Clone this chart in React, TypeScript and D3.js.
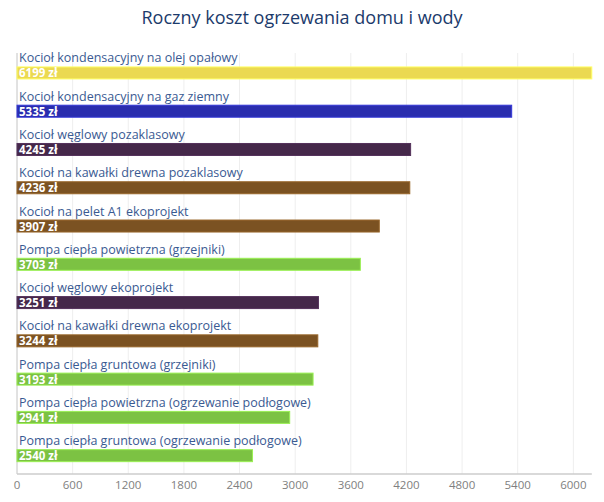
import React from "react";
import * as d3 from "d3";

const categories = [
  "Kocioł kondensacyjny na olej opałowy",
  "Kocioł kondensacyjny na gaz ziemny",
  "Kocioł węglowy pozaklasowy",
  "Kocioł na kawałki drewna pozaklasowy",
  "Kocioł na pelet A1 ekoprojekt",
  "Pompa ciepła powietrzna (grzejniki)",
  "Kocioł węglowy ekoprojekt",
  "Kocioł na kawałki drewna ekoprojekt",
  "Pompa ciepła gruntowa (grzejniki)",
  "Pompa ciepła powietrzna (ogrzewanie podłogowe)",
  "Pompa ciepła gruntowa (ogrzewanie podłogowe)",
];
const values = [6199, 5335, 4245, 4236, 3907, 3703, 3251, 3244, 3193, 2941, 2540];
const colors = [
  "#EBD951", "#2A2DAE", "#45284A", "#7B5222", "#7B5222", "#7CC243",
  "#45284A", "#7B5222", "#7CC243", "#7CC243", "#7CC243",
];
const ticks = [0, 600, 1200, 1800, 2400, 3000, 3600, 4200, 4800, 5400, 6000];
const title = "Roczny koszt ogrzewania domu i wody";

export default function App() {
  const W = 604, H = 502;
  const left = 17, right = 591.8, top = 53, bottom = 474;
  const x = d3.scaleLinear().domain([0, d3.max(values) as number]).range([left, right]);
  const y = d3.scaleBand<string>().domain(categories).range([top, bottom]).paddingInner(0).paddingOuter(0);
  const bw = y.bandwidth();
  const barH = 12;
  const font = "'Open Sans', sans-serif";
  return (
    <svg width={W} height={H} style={{ position: "absolute", left: 0, top: 0, background: "#fff" }} fontFamily={font}>
      <text x={W / 2} y={24} textAnchor="middle" fontSize={18} fill="#1B3A6B">{title}</text>
      {ticks.map((t) => (
        <line key={"g" + t} x1={x(t)} x2={x(t)} y1={top} y2={bottom} stroke="#EEEEEE" strokeWidth={1} />
      ))}
      <line x1={left} x2={left} y1={top} y2={bottom} stroke="#CCCCCC" strokeWidth={1} />
      <line x1={left} x2={right} y1={bottom} y2={bottom} stroke="#CCCCCC" strokeWidth={1.5} />
      {ticks.map((t) => (
        <text key={"t" + t} x={x(t)} y={489} textAnchor="middle" fontSize={11.5} fill="#808080">{t}</text>
      ))}
      {categories.map((c, i) => {
        const yc = (y(c) as number) + bw / 2 + 0.8;
        const y0 = yc - barH / 2;
        return (
          <g key={c}>
            <rect x={x(0)} y={y0} width={x(values[i]) - x(0)} height={barH} fill={colors[i]}
              stroke={d3.color(colors[i])!.brighter(0.6).toString()} strokeWidth={1} />
            <text x={left + 2} y={y0 - 4.5} fontSize={12.5} fill="#3A5A92">{c}</text>
            <text x={left + 2} y={y0 + barH - 1.5} fontSize={11.5} fontWeight="bold" fill="#fff">{values[i]} zł</text>
          </g>
        );
      })}
    </svg>
  );
}
